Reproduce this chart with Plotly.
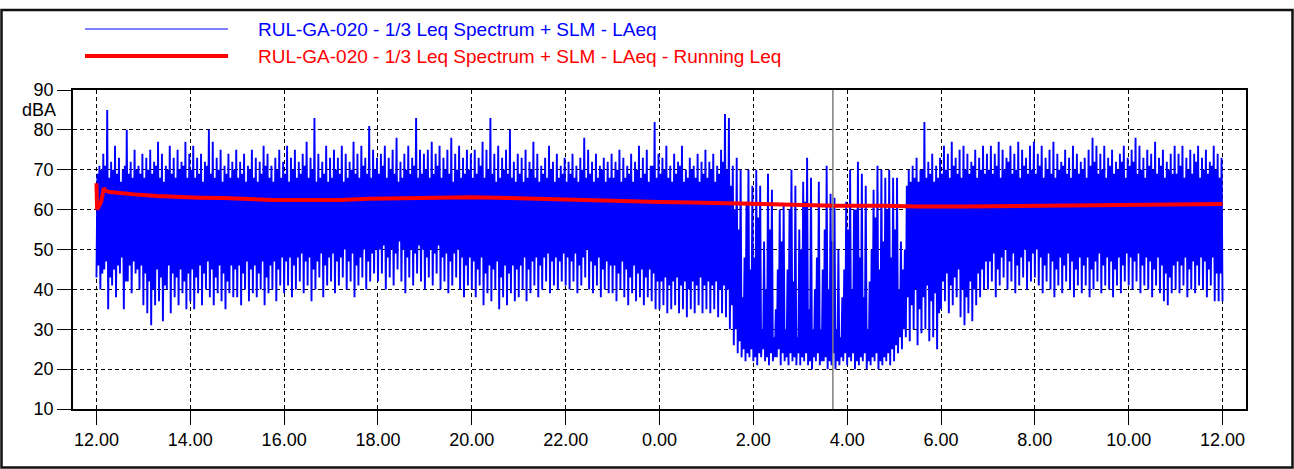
import numpy as np
import plotly.graph_objects as go

# ---------------- data ----------------
# x axis: hours elapsed since 12:00 (the record runs 24 h, 12:00 -> 12:00)
tick_hours = [0, 2, 4, 6, 8, 10, 12, 14, 16, 18, 20, 22, 24]
tick_labels = ["12.00", "14.00", "16.00", "18.00", "20.00", "22.00", "0.00",
               "2.00", "4.00", "6.00", "8.00", "10.00", "12.00"]
y_ticks = [10, 20, 30, 40, 50, 60, 70, 80, 90]

# LAeq, per 5-minute block (one row = one hour):
#   peak reading, top of the dense body, bottom of the dense body, lowest reading
laeq_high = [
    71, 74, 85, 72, 76, 73, 70, 80, 72, 75, 71, 74,   # 12:00
    73, 75, 72, 77, 74, 71, 76, 73, 75, 72, 77, 74,   # 13:00
    76, 73, 74, 72, 80, 77, 73, 75, 71, 74, 72, 75,   # 14:00
    72, 74, 71, 75, 73, 72, 76, 74, 71, 73, 75, 72,   # 15:00
    76, 73, 75, 72, 74, 77, 73, 83, 74, 72, 76, 73,   # 16:00
    75, 73, 76, 74, 72, 77, 74, 76, 73, 81, 75, 73,   # 17:00
    74, 76, 73, 75, 78, 72, 74, 76, 73, 83, 75, 74,   # 18:00
    75, 77, 74, 76, 73, 75, 78, 74, 76, 73, 75, 74,   # 19:00
    75, 73, 77, 75, 83, 74, 76, 73, 75, 80, 72, 74,   # 20:00
    73, 75, 72, 77, 74, 71, 73, 76, 72, 74, 71, 73,   # 21:00
    72, 74, 71, 73, 78, 75, 72, 74, 71, 73, 72, 74,   # 22:00
    72, 75, 73, 71, 74, 72, 76, 73, 75, 71, 82, 74,   # 23:00
    73, 76, 71, 74, 72, 76, 70, 73, 71, 74, 72, 75,   # 0:00
    72, 74, 71, 75, 84, 83, 71, 73, 70, 48, 70, 66,   # 1:00
    70, 66, 52, 69, 65, 35, 60, 61, 45, 70, 66, 55,   # 2:00
    67, 73, 68, 40, 67, 45, 71, 64, 63, 50, 38, 62,   # 3:00
    70, 60, 72, 69, 66, 42, 65, 71, 70, 68, 70, 68,   # 4:00
    68, 52, 50, 70, 71, 73, 70, 82, 72, 74, 71, 73,   # 5:00
    76, 74, 77, 73, 75, 76, 74, 72, 75, 73, 76, 74,   # 6:00
    76, 74, 77, 75, 73, 76, 74, 77, 75, 73, 76, 77,   # 7:00
    74, 76, 73, 75, 77, 74, 72, 75, 73, 76, 74, 72,   # 8:00
    73, 75, 78, 76, 74, 76, 73, 75, 72, 74, 76, 73,   # 9:00
    75, 78, 76, 73, 75, 74, 77, 73, 75, 72, 74, 76,   # 10:00
    74, 76, 73, 75, 74, 76, 73, 75, 72, 76, 74, 73,   # 11:00
    72,                                               # 12:00
]
laeq_body_high = [
    69, 70, 71, 68, 70, 69, 67, 71, 69, 68, 70, 69,   # 12:00
    68, 70, 69, 71, 68, 67, 70, 69, 68, 70, 71, 68,   # 13:00
    70, 68, 69, 67, 71, 69, 68, 70, 67, 69, 68, 70,   # 14:00
    68, 69, 67, 70, 68, 67, 69, 71, 68, 67, 70, 68,   # 15:00
    69, 67, 70, 68, 69, 71, 68, 70, 67, 68, 69, 67,   # 16:00
    68, 70, 69, 67, 68, 70, 69, 68, 71, 69, 68, 70,   # 17:00
    69, 71, 68, 70, 69, 67, 68, 70, 69, 71, 68, 69,   # 18:00
    70, 68, 69, 71, 68, 70, 69, 67, 70, 68, 69, 70,   # 19:00
    68, 69, 71, 68, 70, 69, 67, 68, 70, 69, 68, 67,   # 20:00
    69, 67, 68, 70, 68, 67, 69, 68, 70, 67, 68, 69,   # 21:00
    67, 69, 68, 67, 70, 68, 69, 67, 68, 70, 67, 68,   # 22:00
    68, 70, 67, 68, 69, 67, 70, 68, 69, 67, 71, 68,   # 23:00
    69, 70, 68, 67, 69, 71, 67, 68, 70, 68, 67, 69,   # 0:00
    68, 70, 67, 69, 72, 70, 66, 60, 55, 38, 62, 45,   # 1:00
    48, 58, 30, 40, 55, 28, 45, 52, 30, 60, 42, 28,   # 2:00
    50, 62, 35, 30, 48, 30, 55, 40, 52, 30, 28, 45,   # 3:00
    55, 40, 60, 48, 38, 30, 50, 58, 45, 52, 60, 48,   # 4:00
    55, 40, 45, 66, 67, 68, 67, 70, 68, 69, 67, 68,   # 5:00
    69, 70, 68, 71, 69, 68, 70, 69, 71, 68, 70, 69,   # 6:00
    70, 69, 71, 68, 70, 72, 69, 70, 68, 71, 69, 70,   # 7:00
    69, 71, 68, 70, 69, 68, 70, 71, 69, 68, 70, 69,   # 8:00
    70, 68, 71, 72, 69, 70, 68, 71, 69, 70, 72, 68,   # 9:00
    71, 72, 69, 70, 68, 71, 70, 69, 71, 68, 70, 69,   # 10:00
    69, 71, 68, 70, 69, 72, 68, 70, 69, 71, 70, 68,   # 11:00
    68,                                               # 12:00
]
laeq_body_low = [
    46, 44, 47, 43, 45, 46, 48, 42, 46, 47, 45, 46,   # 12:00
    44, 42, 40, 45, 43, 41, 46, 44, 43, 45, 42, 44,   # 13:00
    45, 43, 46, 44, 47, 45, 43, 46, 44, 42, 46, 45,   # 14:00
    46, 44, 47, 45, 46, 44, 47, 43, 46, 47, 45, 48,   # 15:00
    47, 48, 46, 48, 49, 47, 48, 45, 47, 49, 46, 48,   # 16:00
    49, 47, 48, 50, 47, 49, 46, 48, 50, 47, 49, 50,   # 17:00
    50, 51, 48, 50, 49, 52, 50, 48, 50, 49, 51, 50,   # 18:00
    48, 50, 49, 51, 48, 49, 47, 49, 50, 48, 46, 48,   # 19:00
    47, 45, 48, 44, 46, 45, 47, 43, 46, 44, 46, 45,   # 20:00
    46, 48, 45, 47, 48, 46, 48, 49, 47, 48, 47, 49,   # 21:00
    48, 47, 49, 46, 48, 50, 47, 46, 48, 45, 47, 46,   # 22:00
    46, 44, 47, 45, 43, 46, 44, 45, 43, 45, 44, 42,   # 23:00
    42, 43, 41, 42, 43, 41, 42, 40, 42, 41, 43, 41,   # 0:00
    42, 41, 42, 40, 41, 40, 36, 30, 27, 25, 24, 25,   # 1:00
    23, 24, 25, 23, 24, 23, 25, 24, 23, 24, 23, 24,   # 2:00
    23, 24, 22, 23, 24, 22, 23, 22, 24, 22, 23, 24,   # 3:00
    23, 24, 22, 23, 24, 22, 23, 24, 22, 23, 24, 25,   # 4:00
    26, 28, 30, 38, 36, 40, 35, 38, 41, 37, 39, 34,   # 5:00
    42, 44, 41, 43, 45, 40, 38, 42, 40, 44, 45, 47,   # 6:00
    47, 49, 45, 48, 50, 47, 49, 46, 48, 50, 47, 49,   # 7:00
    50, 48, 46, 49, 47, 45, 48, 46, 49, 47, 45, 48,   # 8:00
    46, 48, 45, 47, 49, 46, 48, 47, 45, 48, 46, 49,   # 9:00
    48, 47, 49, 46, 48, 47, 45, 48, 46, 44, 43, 46,   # 10:00
    47, 46, 48, 45, 47, 46, 48, 47, 45, 48, 44, 44,   # 11:00
    44,                                               # 12:00
]
laeq_low = [
    43, 40, 45, 35, 41, 38, 44, 35, 42, 39, 44, 40,   # 12:00
    36, 34, 31, 36, 37, 32, 40, 34, 38, 36, 39, 35,   # 13:00
    37, 35, 39, 36, 40, 38, 36, 39, 37, 35, 39, 38,   # 14:00
    38, 36, 40, 37, 39, 38, 40, 36, 39, 40, 37, 41,   # 15:00
    39, 41, 38, 40, 42, 39, 41, 37, 40, 43, 38, 41,   # 16:00
    42, 39, 41, 43, 40, 42, 38, 41, 43, 40, 42, 44,   # 17:00
    42, 44, 40, 43, 41, 45, 42, 39, 43, 41, 44, 42,   # 18:00
    40, 43, 41, 44, 40, 42, 39, 41, 43, 40, 38, 41,   # 19:00
    40, 38, 41, 36, 39, 37, 40, 35, 38, 36, 39, 37,   # 20:00
    38, 40, 37, 39, 41, 38, 40, 42, 39, 41, 40, 42,   # 21:00
    41, 40, 42, 39, 41, 43, 40, 39, 41, 38, 40, 39,   # 22:00
    39, 37, 40, 38, 36, 39, 37, 38, 36, 38, 37, 35,   # 23:00
    35, 36, 34, 35, 36, 34, 35, 33, 35, 34, 36, 34,   # 0:00
    35, 34, 35, 33, 34, 33, 30, 26, 24, 23, 22, 23,   # 1:00
    22, 21, 23, 22, 21, 22, 23, 21, 22, 21, 22, 21,   # 2:00
    21, 22, 21, 20, 22, 21, 22, 20, 21, 20, 21, 22,   # 3:00
    21, 22, 20, 21, 22, 20, 21, 22, 20, 21, 22, 21,   # 4:00
    22, 24, 25, 28, 27, 30, 26, 29, 30, 27, 28, 25,   # 5:00
    35, 37, 34, 36, 38, 33, 31, 34, 32, 36, 38, 40,   # 6:00
    40, 42, 38, 41, 43, 40, 42, 39, 41, 43, 40, 42,   # 7:00
    43, 41, 39, 42, 40, 38, 41, 39, 42, 40, 38, 41,   # 8:00
    39, 41, 38, 40, 42, 39, 41, 40, 38, 41, 39, 42,   # 9:00
    41, 40, 42, 39, 41, 40, 38, 41, 39, 37, 36, 39,   # 10:00
    40, 39, 41, 38, 40, 39, 41, 40, 38, 41, 37, 37,   # 11:00
    37,                                               # 12:00
]

# Running Leq
running_hours = [0, 0.013, 0.06, 0.1, 0.156, 0.2, 0.28, 0.6, 0.92, 1.3,
                 1.63, 2.2, 2.7, 3.2, 3.77, 4.5, 5.2, 5.8, 6.5, 7.2,
                 7.97, 8.8, 9.6, 10.45, 11.0, 11.52, 12.02, 12.66, 13.65, 14.86,
                 15.71, 16.78, 17.5, 18.5, 19.63, 20.5, 21.4, 22.47, 24.0]
running_leq = [66.6, 60.0, 61.0, 62.0, 65.4, 64.7, 64.4, 64.0, 63.7, 63.4,
               63.2, 63.0, 62.9, 62.7, 62.4, 62.4, 62.4, 62.7, 62.8, 63.0,
               63.1, 62.9, 62.6, 62.3, 62.1, 61.9, 61.9, 61.8, 61.5, 61.3,
               61.0, 61.0, 60.8, 60.8, 60.9, 61.0, 61.1, 61.3, 61.4]

cursor_hour = 15.695   # grey cursor line (about 03:41)

name_laeq = "RUL-GA-020 - 1/3 Leq Spectrum + SLM - LAeq"
name_run = "RUL-GA-020 - 1/3 Leq Spectrum + SLM - LAeq - Running Leq"

# ---------------- build ----------------
BLUE = "#0000ff"
RED = "#ff0000"
FONT = "Arial, Liberation Sans, sans-serif"

n = len(laeq_high)
step = 5.0 / 60.0
t0 = np.arange(n) * step
# within each 5-min block: lowest -> body top -> body bottom -> peak
zig_x = np.column_stack([t0, t0 + step / 4, t0 + step / 2, t0 + 3 * step / 4]).ravel()
zig_y = np.column_stack([laeq_low, laeq_body_high, laeq_body_low, laeq_high]).ravel()
keep = zig_x <= 24.0
zig_x, zig_y = zig_x[keep], zig_y[keep]

fig = go.Figure()
fig.add_trace(go.Scatter(x=zig_x, y=zig_y, mode="lines", name=name_laeq,
                         line=dict(color=BLUE, width=1.9), showlegend=False))
fig.add_trace(go.Scatter(x=running_hours, y=running_leq, mode="lines",
                         name=name_run, line=dict(color=RED, width=4),
                         showlegend=False))

W, H = 1294, 469
L, R, T, B = 73, 48, 90, 60
pw, ph = W - L - R, H - T - B


def px(xp):
    return (xp - L) / pw


def py(yp):
    return (H - B - yp) / ph


shapes = [
    dict(type="line", xref="x", yref="y", x0=cursor_hour, x1=cursor_hour,
         y0=10, y1=90, line=dict(color="#7f7f7f", width=1.5), layer="above"),
    dict(type="rect", xref="paper", yref="paper", x0=px(1.5), x1=px(1292.5),
         y0=py(467.5), y1=py(10), line=dict(color="#111111", width=2.5)),
    dict(type="line", xref="paper", yref="paper", x0=px(85), x1=px(228),
         y0=py(29), y1=py(29), line=dict(color=BLUE, width=1.2)),
    dict(type="line", xref="paper", yref="paper", x0=px(85), x1=px(228),
         y0=py(56), y1=py(56), line=dict(color=RED, width=4)),
]

annotations = [
    dict(xref="paper", yref="paper", x=px(256), y=py(29), xanchor="left",
         yanchor="middle", text=name_laeq, showarrow=False,
         font=dict(family=FONT, size=19, color=BLUE)),
    dict(xref="paper", yref="paper", x=px(256), y=py(56), xanchor="left",
         yanchor="middle", text=name_run, showarrow=False,
         font=dict(family=FONT, size=19, color=RED)),
    dict(xref="paper", yref="paper", x=px(58), y=py(110), xanchor="right",
         yanchor="middle", text="dBA", showarrow=False,
         font=dict(family=FONT, size=18, color="black")),
]

fig.update_layout(
    width=W, height=H,
    margin=dict(l=L, r=R, t=T, b=B, pad=0),
    paper_bgcolor="white", plot_bgcolor="white",
    showlegend=False,
    shapes=shapes, annotations=annotations,
    font=dict(family=FONT, size=18, color="black"),
)
fig.update_xaxes(
    range=[-0.5, 24.5], tickmode="array", tickvals=tick_hours,
    ticktext=tick_labels, ticks="outside", ticklen=14, tickwidth=1,
    tickcolor="black", showline=True, linecolor="black", linewidth=1.5,
    mirror=True, showgrid=True, gridcolor="black", gridwidth=1,
    griddash="4px,3px", zeroline=False,
    tickfont=dict(family=FONT, size=18, color="black"),
)
fig.update_yaxes(
    range=[10, 90], tickmode="array", tickvals=y_ticks,
    ticks="outside", ticklen=14, tickwidth=1, tickcolor="black",
    showline=True, linecolor="black", linewidth=1.5, mirror=True,
    showgrid=True, gridcolor="black", gridwidth=1, griddash="4px,3px",
    zeroline=False, tickfont=dict(family=FONT, size=18, color="black"),
)

fig.write_html("out.html")
